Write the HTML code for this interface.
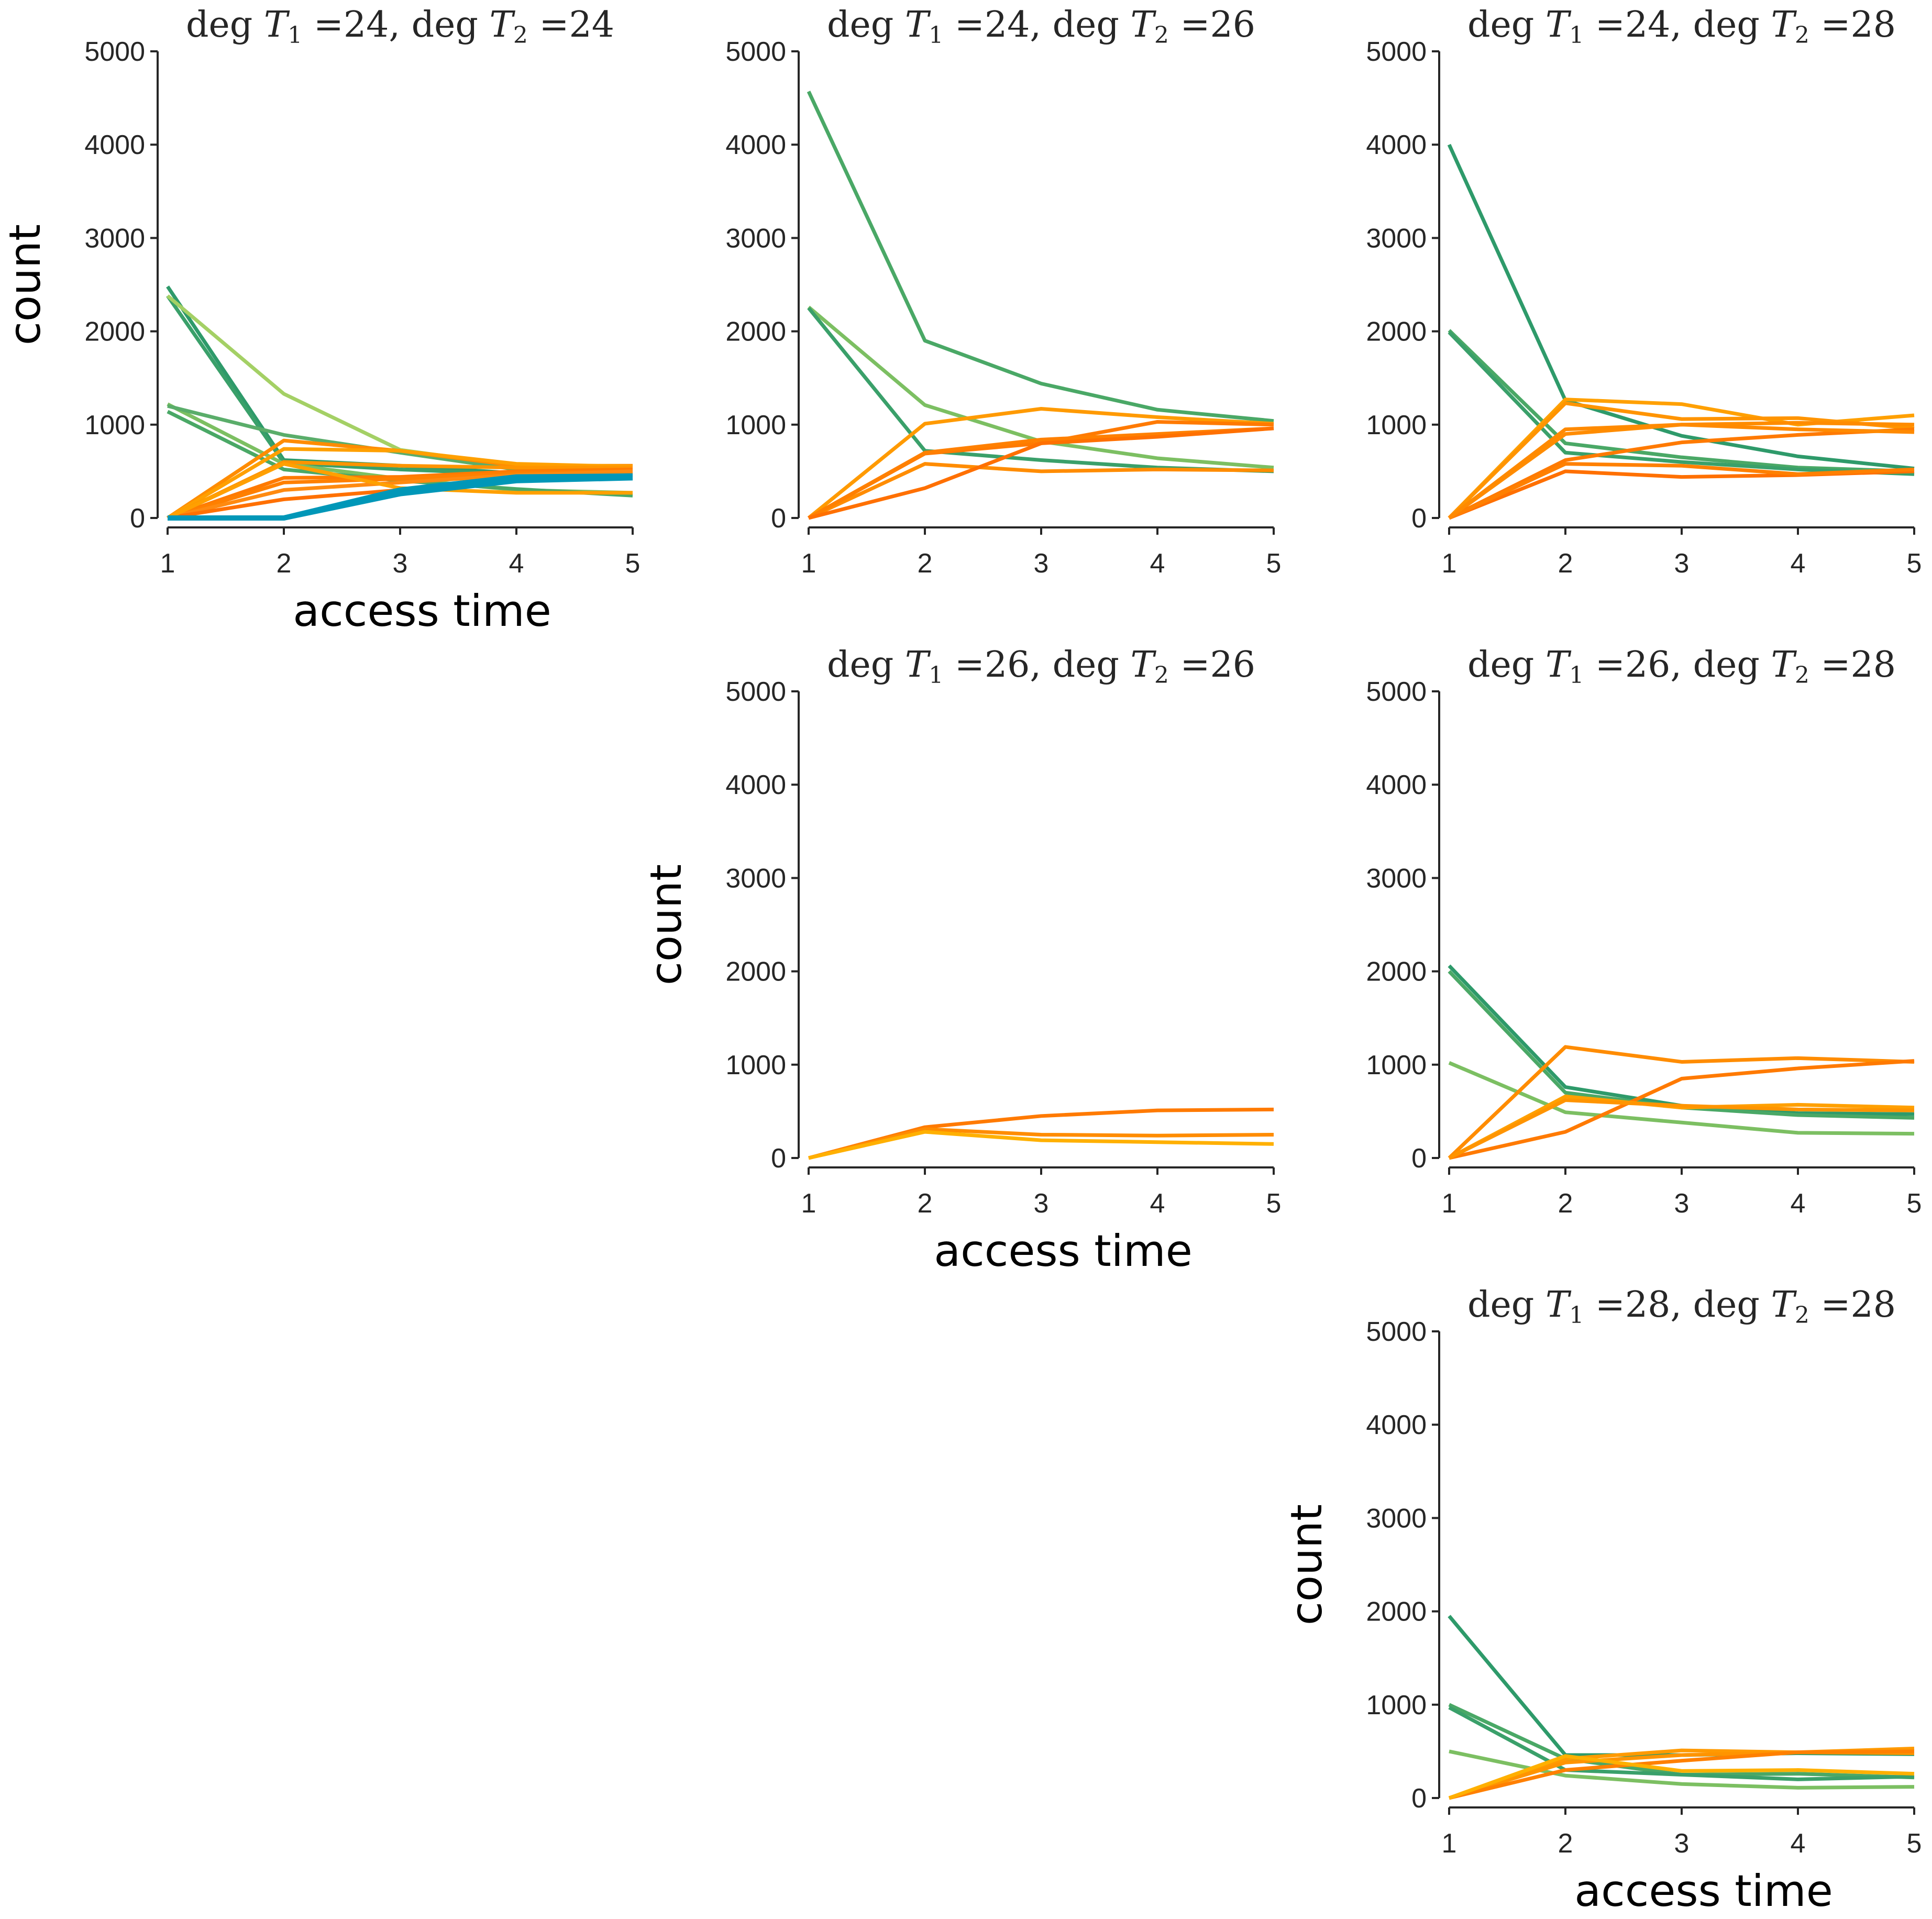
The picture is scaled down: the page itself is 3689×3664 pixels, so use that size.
<!DOCTYPE html>
<html><head><meta charset="utf-8"><style>
html,body{margin:0;padding:0;background:#fff;}
svg{display:block;}
</style></head><body>
<svg id="fig" width="3689" height="3664" viewBox="0 0 3689 3664" xmlns="http://www.w3.org/2000/svg"></svg>
<script>
const xTicks = [1,2,3,4,5];
const yTicks = [0,1000,2000,3000,4000,5000];
const panelTitles = [["24","24"],["24","26"],["24","28"],["26","26"],["26","28"],["28","28"]];
const panelCells = [[0,0],[0,1],[0,2],[1,1],[1,2],[2,2]];
const labelledPanels = [0,3,5];
const p0Series = [[2480,620,560,480,460],[2380,590,520,470,450],[2380,1330,730,560,540],[1220,580,420,300,270],[1140,520,400,310,240],[1200,890,700,520,500],[0,830,720,560,560],[0,740,720,580,550],[0,600,560,540,540],[0,430,440,500,520],[0,380,420,480,500],[0,300,380,460,500],[0,200,300,420,460],[0,580,320,270,270],[0,0,300,440,450],[0,0,260,400,430]];
const p0Colors = ["#2e9a6a","#3aa06a","#a4d065","#7cbf62","#4aa866","#5aad6a","#ff8c00","#ffa000","#ff9400","#ff7a00","#ff8000","#ff8a10","#ff7000","#ffa000","#0097b8","#0097b8"];
const p1Series = [[4570,1900,1440,1160,1040],[2260,1210,820,640,540],[2250,720,620,540,500],[0,1010,1170,1080,1010],[0,580,500,520,510],[0,690,800,1030,1000],[0,700,840,900,960],[0,320,800,870,960]];
const p1Colors = ["#4aa866","#7cbf62","#3aa06a","#ff9a00","#ff8c00","#ff7a00","#ff8000","#ff7000"];
const p2Series = [[4000,1260,880,660,530],[2010,800,650,540,500],[1990,700,600,520,470],[0,1270,1220,1000,1100],[0,1230,1060,1070,960],[0,900,1000,1020,1000],[0,620,810,890,950],[0,500,440,460,500],[0,580,560,470,520],[0,950,1000,950,920]];
const p2Colors = ["#2e9a6a","#4aa866","#3aa06a","#ffa000","#ff9400","#ff8c00","#ff7a00","#ff7000","#ff8000","#ff8a00"];
const p3Series = [[0,330,450,510,520],[0,310,250,240,250],[0,280,190,170,150]];
const p3Colors = ["#ff7a00","#ff8c00","#ffb000"];
const p4Series = [[2060,760,560,480,470],[2000,700,540,460,430],[1020,490,380,270,260],[0,1190,1030,1070,1030],[0,280,850,960,1040],[0,660,540,570,540],[0,620,560,520,510]];
const p4Colors = ["#2e9a6a","#4aa866","#7cbf62","#ff8c00","#ff7a00","#ffa000","#ff9400"];
const p5Series = [[1950,460,460,480,470],[1000,420,250,260,220],[970,300,250,200,230],[500,240,150,110,120],[0,420,510,490,530],[0,380,460,490,480],[0,300,400,490,500],[0,450,290,300,260]];
const p5Colors = ["#2e9a6a","#4aa866","#3aa06a","#7cbf62","#ff9a00","#ff9400","#ff8000","#ffb000"];
const allSeries = [p0Series,p1Series,p2Series,p3Series,p4Series,p5Series];
const allColors = [p0Colors,p1Colors,p2Colors,p3Colors,p4Colors,p5Colors];

const NS = "http://www.w3.org/2000/svg";
const svg = document.getElementById('fig');
function mk(tag, attrs, parent){const e=document.createElementNS(NS,tag);for(const k in attrs)e.setAttribute(k,attrs[k]);parent.appendChild(e);return e;}
const colX0 = [301,1525,2748], rowY0 = [98,1320,2542];
const plotH = 891, plotW = 888, xOff = 19, spineGap = 18;

panelCells.forEach((cell, pi) => {
  const ax0 = colX0[cell[1]], top = rowY0[cell[0]];
  const g = mk('g', {}, svg);
  
  
  const xs = v => ax0 + xOff + (v - 1) / 4 * plotW;
  const ys = v => top + plotH - v / 5000 * plotH;
  const y0 = ys(0);
  const ya = mk('line', {x1:ax0,y1:ys(5000),x2:ax0,y2:y0,stroke:'#262626','stroke-width':4}, g);
  
  
  yTicks.forEach(t => {
    mk('line', {x1:ax0-14,y1:ys(t),x2:ax0,y2:ys(t),stroke:'#262626','stroke-width':4}, g);
    const tx = mk('text', {x:ax0-24,y:ys(t)+18,'text-anchor':'end','font-family':'Liberation Sans, DejaVu Sans, sans-serif','font-size':52,fill:'#262626'}, g);
    tx.textContent = t;
    
    
  });
  const xa = mk('line', {x1:xs(1),y1:y0+spineGap,x2:xs(5),y2:y0+spineGap,stroke:'#262626','stroke-width':4}, g);
  
  
  xTicks.forEach(t => {
    mk('line', {x1:xs(t),y1:y0+spineGap,x2:xs(t),y2:y0+spineGap+14,stroke:'#262626','stroke-width':4}, g);
    const tx = mk('text', {x:xs(t),y:y0+spineGap+86,'text-anchor':'middle','font-family':'Liberation Sans, DejaVu Sans, sans-serif','font-size':52,fill:'#262626'}, g);
    tx.textContent = t;
    
    
  });
  allSeries[pi].forEach((s, si) => {
    const pts = s.map((v, i) => xs(xTicks[i]) + ',' + ys(v)).join(' ');
    const teal = allColors[pi][si] === '#0097b8';
    const pl = mk('polyline', {points:pts,fill:'none',stroke:allColors[pi][si],'stroke-width':teal?10:7,'stroke-linejoin':'round'}, g);
    
    
  });
  const tt = mk('text', {x:ax0+xOff+plotW/2,y:top-28,'text-anchor':'middle','font-family':'DejaVu Serif, Liberation Serif, serif','font-size':68,fill:'#262626'}, g);
  tt.innerHTML = 'deg <tspan font-style="italic">T</tspan><tspan font-size="44" dy="12">1</tspan><tspan dy="-12"> =' + panelTitles[pi][0] + ', deg </tspan><tspan font-style="italic">T</tspan><tspan font-size="44" dy="12">2</tspan><tspan dy="-12"> =' + panelTitles[pi][1] + '</tspan>';
  
  
  if (labelledPanels.includes(pi)) {
    const yl = mk('text', {x:0,y:0,transform:'translate(' + (ax0-225) + ',' + (top+plotH/2) + ') rotate(-90)','text-anchor':'middle','font-family':'DejaVu Sans, Liberation Sans, sans-serif','font-size':82,fill:'#000'}, g);
    yl.textContent = 'count';
    
    
    const xl = mk('text', {x:ax0+xOff+plotW/2+42,y:y0+spineGap+188,'text-anchor':'middle','font-family':'DejaVu Sans, Liberation Sans, sans-serif','font-size':83,fill:'#000'}, g);
    xl.textContent = 'access time';
    
    
  }
});
</script>
</body></html>
